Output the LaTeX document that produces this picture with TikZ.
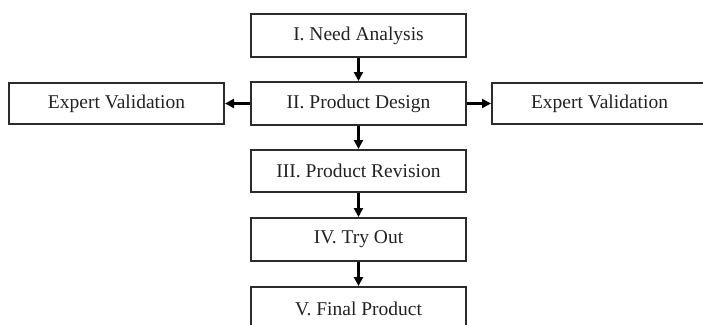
\documentclass[tikz,border=0pt]{standalone}
\usepackage{fontspec}
\setmainfont{Liberation Serif}
\usetikzlibrary{arrows.meta}
\definecolor{edgec}{HTML}{2B2B2B}
\definecolor{textc}{HTML}{222222}
\begin{document}
\begin{tikzpicture}[x=1pt,y=-1pt,
  stagebox/.style={draw=edgec, line width=2pt, inner sep=0pt, minimum width=215pt, minimum height=43pt,
    font=\fontsize{19.5}{22}\selectfont, text=textc, anchor=center},
  conn/.style={draw=black, line width=2.5pt, -{Triangle[length=9pt,width=9pt]}}]
\useasboundingbox (0,0) rectangle (703,324);
\clip (0,0) rectangle (703,324);
\node[stagebox] (n1) at (358.5,35.5) {I. Need Analysis};
\node[stagebox] (n2) at (358.5,103.5) {II. Product Design};
\node[stagebox, minimum height=41pt] (ev1) at (116.5,103.5) {Expert Validation};
\node[stagebox, minimum height=41pt] (ev2) at (599.5,103.5) {Expert Validation};
\node[stagebox, minimum height=42pt] (n3) at (358.5,171) {III. Product Revision};
\node[stagebox] (n4) at (358.5,239.5) {IV. Try Out};
\node[stagebox] (n5) at (358.5,308.5) {V. Final Product};
\draw[conn] (n1.south) -- (n2.north);
\draw[conn] (n2.west) -- (ev1.east);
\draw[conn] (n2.east) -- (ev2.west);
\draw[conn] (n2.south) -- (n3.north);
\draw[conn] (n3.south) -- (n4.north);
\draw[conn] (n4.south) -- (n5.north);
\end{tikzpicture}
\end{document}
